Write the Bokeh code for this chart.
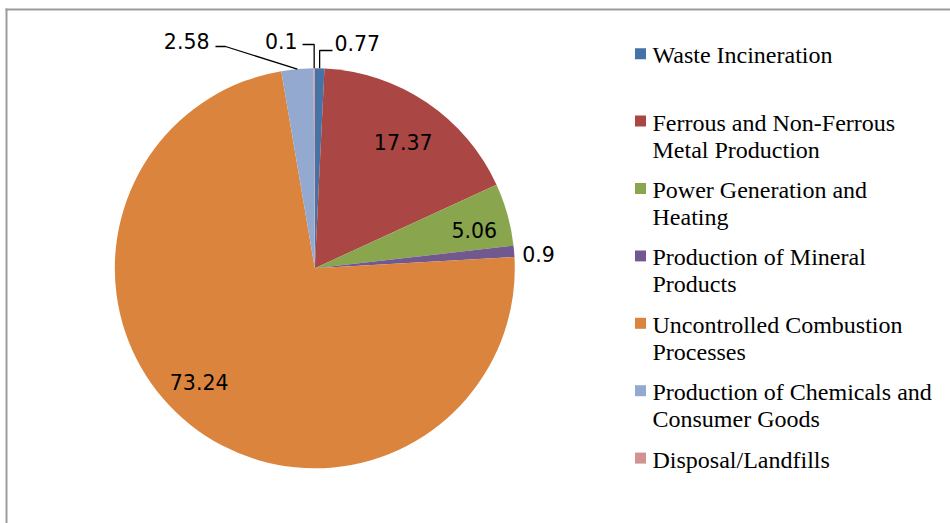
import numpy as np
from bokeh.plotting import figure
from bokeh.models import Range1d, ColumnDataSource
from bokeh.core.properties import value
from bokeh.embed import file_html
from bokeh.resources import INLINE

# ---------------- data ----------------
categories = [
    "Waste Incineration",
    "Ferrous and Non-Ferrous\nMetal Production",
    "Power Generation and\nHeating",
    "Production of Mineral\nProducts",
    "Uncontrolled Combustion\nProcesses",
    "Production of Chemicals and\nConsumer Goods",
    "Disposal/Landfills",
]
values = [0.77, 17.37, 5.06, 0.9, 73.24, 2.58, 0.1]
value_labels = ["0.77", "17.37", "5.06", "0.9", "73.24", "2.58", "0.1"]
colors = ["#4572A7", "#AA4643", "#89A54E", "#71588F", "#DB843D", "#93A9CF", "#D19392"]

# ---------------- layout helpers (screen px -> data) ----------------
W, H = 950, 523
def X(xs):
    return xs
def Y(ys):
    return H - ys

p = figure(width=W, height=H, x_range=Range1d(0, W), y_range=Range1d(0, H),
           output_backend="svg", toolbar_location=None, min_border=0)
p.axis.visible = False
p.grid.visible = False
p.outline_line_color = None
p.background_fill_color = "white"
p.border_fill_color = "white"

# chart area border (top and left visible)
p.segment(x0=[X(5), X(6)], y0=[Y(9), Y(8)], x1=[X(W + 5), X(6)], y1=[Y(9), Y(H + 5)],
          line_color="#9c9c9c", line_width=2)

# ---------------- pie ----------------
cx, cy, R = X(314.3), Y(267.8), 200
vals = np.array(values, dtype=float)
frac = vals / vals.sum()
cum = np.concatenate([[0.0], np.cumsum(frac)])
a0 = cum[:-1] * 2 * np.pi          # clockwise from 12 o'clock
a1 = cum[1:] * 2 * np.pi
mid = (a0 + a1) / 2

src = ColumnDataSource(dict(start=np.pi / 2 - a0, end=np.pi / 2 - a1, color=colors))
p.wedge(x=cx, y=cy, radius=R, start_angle="start", end_angle="end",
        direction="clock", fill_color="color", line_color=None, source=src)

label_font = value("DejaVu Sans")
LFS = "20.5px"

# inside labels: index -> (radius fraction, angle nudge in degrees)
inside = {1: (0.77, 1.0), 2: (0.82, 2.0), 4: (0.81, 7.0)}
ix, iy, it = [], [], []
for i, (rf, dd) in inside.items():
    ang = mid[i] + np.radians(dd)
    ix.append(cx + R * rf * np.sin(ang))
    iy.append(cy + R * rf * np.cos(ang))
    it.append(value_labels[i])
p.text(x=ix, y=iy, text=it, text_font=label_font, text_font_size=LFS,
       text_align="center", text_baseline="middle", text_color="black")

# outside label without leader (0.9)
ang = mid[3] + np.radians(0.8)
p.text(x=[cx + R * 1.04 * np.sin(ang)], y=[cy + R * 1.04 * np.cos(ang)],
       text=[value_labels[3]], text_font=label_font, text_font_size=LFS,
       text_align="left", text_baseline="middle", text_color="black")

# outside labels with leader lines: index -> elbow(screen), end(screen), text pos(screen), align
leaders = {
    0: (None, 50, 332, 50, 334, 42, "left"),
    6: (None, 44, 302, 44, 297, 40, "right"),
    5: (225, 46, 215, 46, 209, 40, "right"),
}
lxs, lys = [], []
for i, (ex, ey, endx, endy, txs, tys, al) in leaders.items():
    sx = cx + R * np.sin(mid[i])
    sy = cy + R * np.cos(mid[i])
    ex_d = sx if ex is None else X(ex)
    lxs.append([sx, ex_d, X(endx)])
    lys.append([sy, Y(ey), Y(endy)])
    p.text(x=[X(txs)], y=[Y(tys)], text=[value_labels[i]], text_font=label_font,
           text_font_size=LFS, text_align=al, text_baseline="middle", text_color="black")
p.multi_line(xs=lxs, ys=lys, line_color="black", line_width=1.3)

# ---------------- legend ----------------
leg_y0, leg_step, line_step = 54.7, 67.4, 27.0
mx, my, mc = [], [], []
gx, gy, gt = [], [], []
for i, (cat, col) in enumerate(zip(categories, colors)):
    y_first = leg_y0 + i * leg_step
    mx.append(X(640))
    my.append(Y(y_first - 1.5))
    mc.append(col)
    for k, line in enumerate(cat.split("\n")):
        gx.append(X(652))
        gy.append(Y(y_first + k * line_step))
        gt.append(line)
p.scatter(x=mx, y=my, marker="square", size=11, fill_color=mc, line_color=None)
p.text(x=gx, y=gy, text=gt, text_font=value("Liberation Serif"), text_font_size="24px",
       text_align="left", text_baseline="middle", text_color="black")

open("out.html", "w").write(file_html(p, INLINE))
